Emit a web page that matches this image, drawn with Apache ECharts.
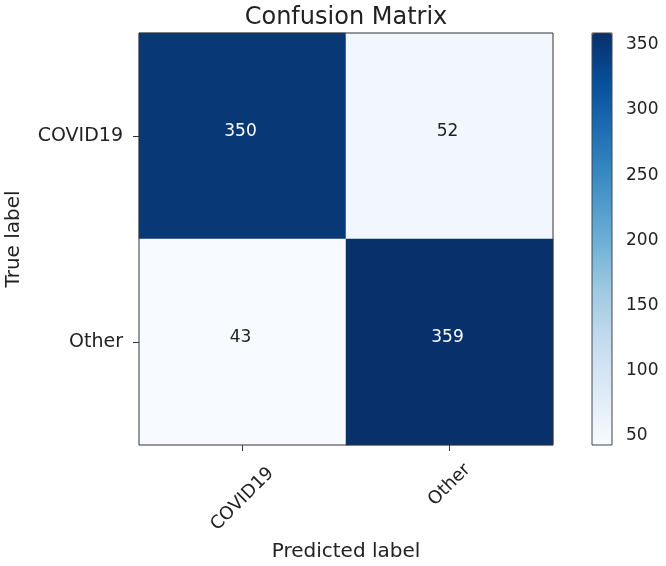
<!DOCTYPE html>
<html><head><meta charset="utf-8">
<script src="https://cdn.jsdelivr.net/npm/echarts@6/dist/echarts.min.js"></script>
<style>html,body{margin:0;padding:0;background:#fff}#c{width:666px;height:566px}</style>
</head><body><div id="c"></div>
<script>
const predictedLabels = ['COVID19', 'Other'];
const trueLabels = ['COVID19', 'Other'];
const matrixRows = [
  [350, 52],
  [43, 359]
];
const colorbarTicks = [50, 100, 150, 200, 250, 300, 350];
const blues = ['#f7fbff','#deebf7','#c6dbef','#9ecae1','#6baed6','#4292c6','#2171b5','#08519c','#08306b'];

const flat = [];
matrixRows.forEach((row, i) => row.forEach((v, j) => flat.push([j, i, v])));
const vMin = Math.min(...flat.map(d => d[2]));
const vMax = Math.max(...flat.map(d => d[2]));
const thresh = vMax / 2;
const font = 'DejaVu Sans';
const txt = '#222';
const fs = 18;

const chart = echarts.init(document.getElementById('c'));
chart.setOption({
  animation: false,
  backgroundColor: '#fff',
  textStyle: { fontFamily: font },
  title: {
    text: 'Confusion Matrix', left: 341, top: 1, textAlign: 'center',
    textStyle: { fontFamily: font, fontSize: 24, fontWeight: 'normal', color: txt }
  },
  grid: [
    { left: 139, top: 33, width: 414, height: 412, show: true, borderColor: '#333', borderWidth: 1, backgroundColor: 'transparent', z: 10, containLabel: false, outerBoundsMode: 'none' },
    { left: 592, top: 33, width: 20, height: 412, show: true, borderColor: '#444', borderWidth: 1, backgroundColor: 'transparent', z: 10, containLabel: false, outerBoundsMode: 'none' }
  ],
  xAxis: [
    {
      type: 'category', data: predictedLabels, gridIndex: 0, position: 'bottom',
      name: 'Predicted label', nameLocation: 'middle', nameGap: 97,
      nameTextStyle: { fontFamily: font, fontSize: 20, color: txt },
      axisLine: { show: false },
      axisTick: { show: true, alignWithLabel: true, length: 6, lineStyle: { color: '#333' } },
      splitLine: { show: false },
      axisLabel: {
        rotate: 45, margin: 40, align: 'center', verticalAlign: 'middle',
        fontFamily: font, fontSize: fs, color: txt,
        formatter: v => v === 'COVID19' ? '{a|' + v + '}' : '{b|' + v + '}',
        rich: {
          a: { fontFamily: font, fontSize: fs, color: txt, padding: [20, 20, 0, 0] },
          b: { fontFamily: font, fontSize: fs, color: txt }
        }
      }
    },
    { type: 'value', gridIndex: 1, show: false, min: 0, max: 1 }
  ],
  yAxis: [
    {
      type: 'category', data: trueLabels, gridIndex: 0, inverse: true,
      name: 'True label', nameLocation: 'middle', nameGap: 115, nameRotate: 90,
      nameTextStyle: { fontFamily: font, fontSize: 20, color: txt },
      axisLine: { show: false },
      axisTick: { show: true, alignWithLabel: true, length: 6, lineStyle: { color: '#333' } },
      splitLine: { show: false },
      axisLabel: { fontFamily: font, fontSize: 19, color: txt, margin: 16 }
    },
    {
      type: 'value', gridIndex: 1, position: 'right', min: vMin, max: vMax,
      axisLine: { show: false },
      splitLine: { show: false },
      axisTick: { show: true, length: 7, lineStyle: { color: '#333' }, customValues: colorbarTicks },
      axisLabel: { fontFamily: font, fontSize: 17, color: txt, margin: 14, customValues: colorbarTicks }
    }
  ],
  visualMap: {
    type: 'continuous', min: vMin, max: vMax, seriesIndex: 0, dimension: 2,
    calculable: false, hoverLink: false, orient: 'vertical',
    left: 592, top: 33, itemWidth: 20, itemHeight: 412, padding: 0,
    text: null, showLabel: false,
    inRange: { color: blues }
  },
  series: [{
    type: 'heatmap', xAxisIndex: 0, yAxisIndex: 0,
    data: flat.map(d => ({ value: d, label: { color: d[2] > thresh ? '#fff' : txt } })),
    label: {
      show: true, fontFamily: font, fontSize: 17, offset: [-2, -4],
      formatter: p => String(p.value[2])
    },
    itemStyle: { borderWidth: 0 },
    emphasis: { disabled: true }
  }]
});
</script></body></html>
